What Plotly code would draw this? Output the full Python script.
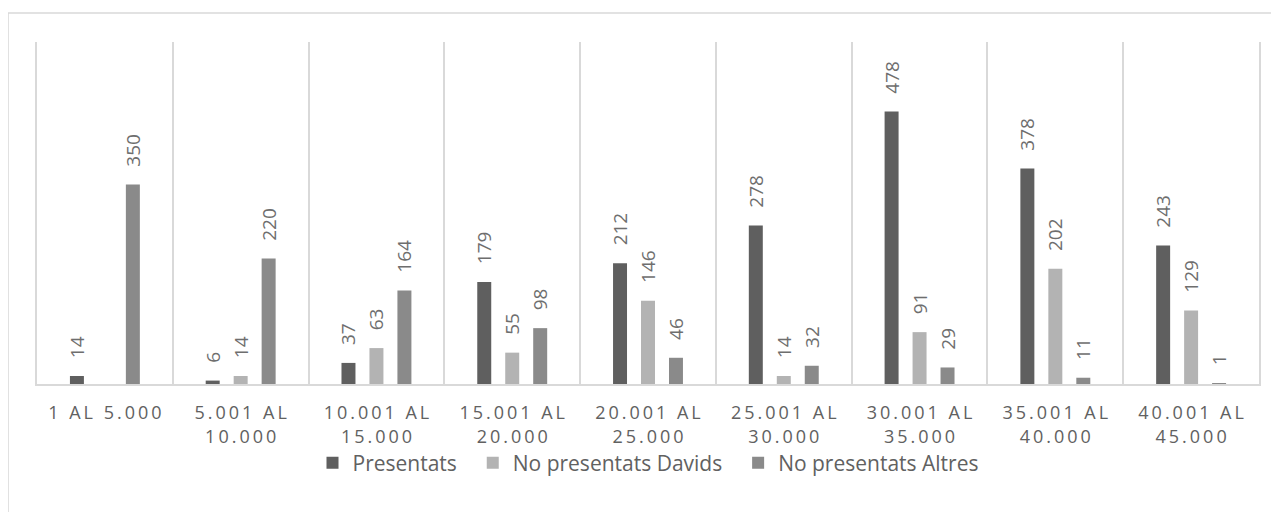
import plotly.graph_objects as go

categories = ["1 AL 5.000", "5.001 AL 10.000", "10.001 AL 15.000", "15.001 AL 20.000",
              "20.001 AL 25.000", "25.001 AL 30.000", "30.001 AL 35.000",
              "35.001 AL 40.000", "40.001 AL 45.000"]
tick_labels = ["1 AL 5.000", "5.001 AL<br>10.000", "10.001 AL<br>15.000", "15.001 AL<br>20.000",
               "20.001 AL<br>25.000", "25.001 AL<br>30.000", "30.001 AL<br>35.000",
               "35.001 AL<br>40.000", "40.001 AL<br>45.000"]
series_names = ["Presentats", "No presentats Davids", "No presentats Altres"]
presentats = [14, 6, 37, 179, 212, 278, 478, 378, 243]
davids = [None, 14, 63, 55, 146, 14, 91, 202, 129]
altres = [350, 220, 164, 98, 46, 32, 29, 11, 1]

SP = "\u2009"
def spaced(s):
    parts = s.split("<br>")
    return "<br>".join(SP.join(list(p)) for p in parts)

ticks_spaced = [spaced(t) for t in tick_labels]

FONT = "Open Sans"
TICK = "#616161"
LABEL = "#6e6e6e"
GRID = "#d9d9d9"

fig = go.Figure()
series = [(series_names[0], presentats, "#5f5f5f"),
          (series_names[1], davids, "#b3b3b3"),
          (series_names[2], altres, "#8a8a8a")]
for i, (name, vals, col) in enumerate(series):
    pad = "\u00a0\u00a0" if i < len(series) - 1 else ""
    fig.add_trace(go.Bar(
        name=name + pad, x=categories, y=vals, marker=dict(color=col, line=dict(width=0)),
        text=[("\u00a0\u00a0\u00a0" + str(v)) if v is not None else "" for v in vals],
        textposition="outside", textangle=-90, cliponaxis=False,
        constraintext="none",
        textfont=dict(family=FONT, size=19, color=LABEL),
    ))

fig.update_layout(
    width=1263, height=504,
    margin=dict(l=29, r=10, t=34, b=128),
    paper_bgcolor="white", plot_bgcolor="white",
    barmode="group", bargap=0.382, bargroupgap=0.5,
    font=dict(family=FONT, color=TICK),
    showlegend=True,
    legend=dict(orientation="h", x=0.5, xanchor="center", y=-0.231, yanchor="middle",
                font=dict(family=FONT, size=21, color=TICK), itemwidth=30,
                traceorder="normal"),
    xaxis=dict(tickmode="array", tickvals=categories, ticktext=ticks_spaced,
               tickson="boundaries", showgrid=True, gridcolor=GRID, gridwidth=1.5,
               showline=True, linecolor=GRID, linewidth=1.5, ticks="",
               tickfont=dict(family=FONT, size=18, color=TICK), tickangle=0,
               ticklabelstandoff=12),
    yaxis=dict(range=[0, 600], showgrid=False, showticklabels=False, zeroline=False,
               showline=True, linecolor=GRID, linewidth=1.5, mirror=True, ticks=""),
)
fig.add_shape(type="rect", xref="paper", yref="paper",
              x0=-0.0237, x1=1.05, y0=-0.5, y1=1.0848,
              line=dict(color=GRID, width=1.5), layer="below")

fig.write_html("out.html")
